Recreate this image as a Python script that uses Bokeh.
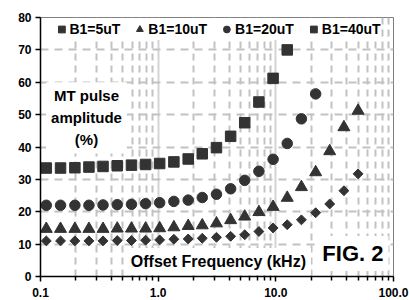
from bokeh.plotting import figure
from bokeh.models import Range1d, FixedTicker, Legend, LegendItem, Label, CustomJSTickFormatter
from bokeh.embed import file_html
from bokeh.resources import INLINE
import math

# Offset frequency (kHz)
freq = [0.112, 0.148, 0.196, 0.258, 0.340, 0.449, 0.593, 0.782, 1.03, 1.36, 1.80,
        2.37, 3.13, 4.13, 5.44, 7.18, 9.48, 12.5, 16.5, 21.8, 28.7, 37.9, 50.0]
# MT pulse amplitude (%)
b1_5 = [11.0, 11.0, 11.0, 11.0, 11.0, 11.1, 11.1, 11.2, 11.3, 11.5, 11.6, 11.8,
        12.1, 12.4, 12.9, 13.9, 15.0, 16.0, 17.5, 19.7, 22.4, 26.5, 31.7]
b1_10 = [14.7, 14.7, 14.7, 14.7, 14.7, 14.8, 14.8, 14.8, 14.9, 15.2, 15.6, 15.8,
         16.4, 17.4, 18.5, 19.9, 21.5, 24.3, 27.6, 32.2, 38.7, 46.1, 51.2]
b1_20 = [22.0, 22.0, 22.0, 22.0, 22.1, 22.2, 22.3, 22.5, 22.8, 23.2, 23.6, 24.4,
         25.4, 27.1, 29.7, 32.5, 36.2, 41.1, 48.7, 56.4]
b1_40 = [33.5, 33.5, 33.6, 33.8, 34.0, 34.2, 34.4, 34.6, 34.9, 35.4, 36.3, 37.9,
         39.8, 43.3, 47.5, 53.9, 61.2, 70.0]
series_names = ["B1=5uT", "B1=10uT", "B1=20uT", "B1=40uT"]

x_major = [0.1, 1, 10, 100]
x_minor = [0.2, 0.3, 0.4, 0.5, 0.6, 0.7, 0.8, 0.9, 2, 3, 4, 5, 6, 7, 8, 9,
           20, 30, 40, 50, 60, 70, 80, 90]
y_ticks = [0, 10, 20, 30, 40, 50, 60, 70, 80]

FONT = "Liberation Sans"
MC = "#333333"

p = figure(width=409, height=300, x_axis_type="log",
           x_range=Range1d(0.1, 100), y_range=Range1d(0, 80),
           output_backend="svg", toolbar_location=None,
           min_border_left=40, min_border_right=16, min_border_top=17, min_border_bottom=24)

r5 = p.scatter(freq, b1_5, marker="square", angle=math.pi / 4, size=7, color=MC)
r10 = p.scatter(freq, b1_10, marker="triangle", size=12, color=MC)
r20 = p.scatter(freq[:len(b1_20)], b1_20, marker="circle", size=10.5, color=MC)
r40 = p.scatter(freq[:len(b1_40)], b1_40, marker="square", size=10.5, color=MC)

xt = FixedTicker(ticks=x_major, minor_ticks=x_minor)
yt = FixedTicker(ticks=y_ticks)

# axes
p.xaxis.ticker = xt
p.xaxis.formatter = CustomJSTickFormatter(code="return tick.toFixed(1);")
p.yaxis.ticker = yt
for ax in (p.xaxis[0], p.yaxis[0]):
    ax.axis_line_color = "black"
    ax.axis_line_width = 1.5
    ax.major_tick_line_color = "black"
    ax.major_tick_line_width = 1.5
    ax.major_tick_in = 0
    ax.major_tick_out = 5
    ax.major_label_text_font = FONT
    ax.major_label_text_font_style = "bold"
    ax.major_label_text_font_size = "12px"
    ax.major_label_text_color = "black"
p.xaxis.minor_tick_line_color = "black"
p.xaxis.minor_tick_line_width = 1.5
p.xaxis.minor_tick_in = 0
p.xaxis.minor_tick_out = 4
p.yaxis.minor_tick_line_color = None
p.xaxis.major_label_standoff = 6
p.yaxis.major_label_standoff = 4

# grids
p.xgrid.ticker = xt
p.ygrid.ticker = yt
p.xgrid.grid_line_color = "#d4d4d4"
p.xgrid.grid_line_width = 2
p.xgrid.minor_grid_line_color = "#c2c2c2"
p.xgrid.minor_grid_line_width = 2
p.xgrid.minor_grid_line_dash = "7 5"
p.ygrid.grid_line_color = "#c2c2c2"
p.ygrid.grid_line_width = 2
p.ygrid.grid_line_dash = "8 6"

p.outline_line_color = "#808080"

legend = Legend(items=[LegendItem(label=n, renderers=[r]) for n, r in
                       zip(series_names, [r5, r10, r20, r40])],
                orientation="horizontal", location="top_center",
                background_fill_color="white", background_fill_alpha=1.0,
                border_line_color=None, margin=1, padding=4, spacing=11,
                glyph_width=17, glyph_height=22, label_standoff=0,
                label_text_font=FONT, label_text_font_style="bold",
                label_text_font_size="14px", label_text_color="black")
p.add_layout(legend)

def lab(x, y, text, size):
    return Label(x=x, y=y, text=text, text_align="center", text_baseline="middle",
                 text_font=FONT, text_font_style="bold", text_font_size=size,
                 text_color="black", background_fill_color="white",
                 padding=5, text_line_height=1.3)

p.add_layout(lab(0.246, 49, "MT pulse\namplitude\n(%)", "15px"))
p.add_layout(lab(3.25, 4.6, "Offset Frequency (kHz)", "16px"))
p.add_layout(lab(45.2, 7.1, "FIG. 2", "22px"))

open("out.html", "w").write(file_html(p, INLINE))
